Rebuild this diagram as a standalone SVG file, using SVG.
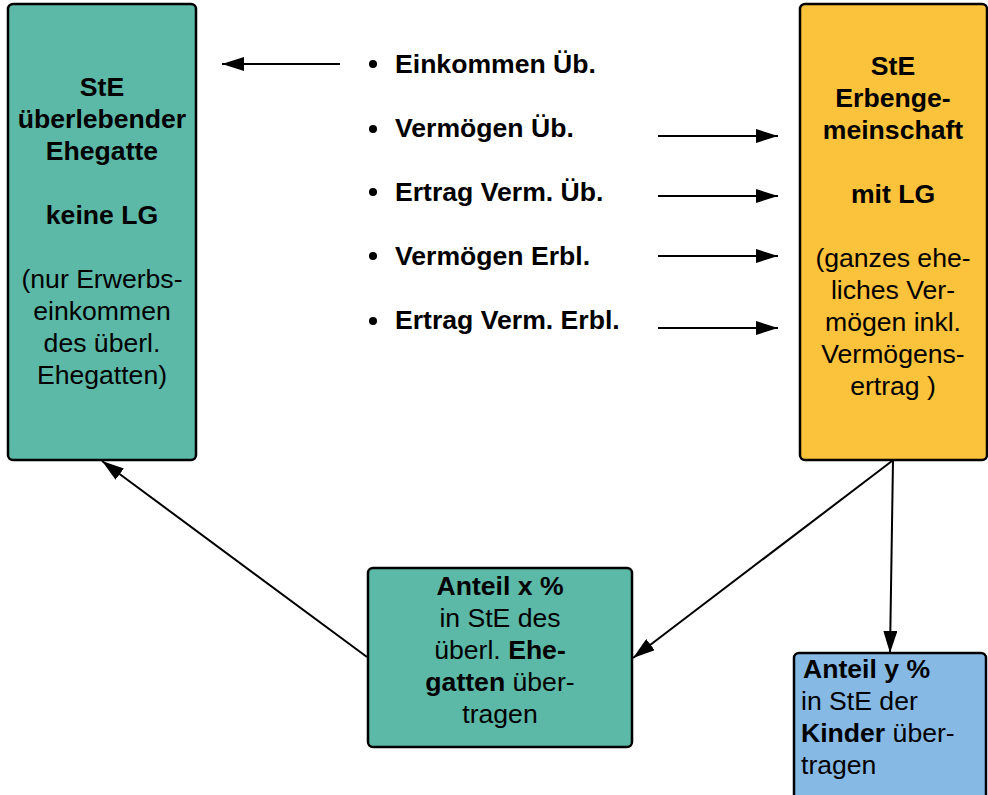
<svg xmlns="http://www.w3.org/2000/svg" width="988" height="795" viewBox="0 0 988 795">
<defs>
<style>
.box{stroke:#000;stroke-width:2.5}
.t{font-family:"Liberation Sans",Arial,sans-serif;font-size:26.6px;fill:#000}
.b{font-weight:bold}
.c{text-anchor:middle}
.ln{stroke:#000;stroke-width:2;fill:none}
</style>
<marker id="ah" viewBox="0 0 22 14" refX="22" refY="7" markerWidth="22" markerHeight="14" markerUnits="userSpaceOnUse" orient="auto">
<path d="M0,0 L22,7 L0,14 Z" fill="#000"/>
</marker>
</defs>
<rect width="988" height="795" fill="#fff"/>
<g id="connectors">
<line class="ln" x1="340" y1="64" x2="222" y2="64" marker-end="url(#ah)"/>
<line class="ln" x1="658" y1="136" x2="778" y2="136" marker-end="url(#ah)"/>
<line class="ln" x1="658" y1="196" x2="778" y2="196" marker-end="url(#ah)"/>
<line class="ln" x1="658" y1="256" x2="778" y2="256" marker-end="url(#ah)"/>
<line class="ln" x1="658" y1="328" x2="778" y2="328" marker-end="url(#ah)"/>
<line class="ln" x1="367" y1="657" x2="102" y2="461" marker-end="url(#ah)"/>
<line class="ln" x1="892" y1="461" x2="633" y2="658" marker-end="url(#ah)"/>
<line class="ln" x1="893" y1="461" x2="890" y2="653" marker-end="url(#ah)"/>
</g>
<g id="node-left">
<rect class="box" x="8" y="4" width="188" height="456" rx="5" fill="#5cb9a7"/>
<text class="t b c" x="102" y="96">StE</text>
<text class="t b c" x="102" y="128">überlebender</text>
<text class="t b c" x="102" y="160">Ehegatte</text>
<text class="t b c" x="102" y="224">keine LG</text>
<text class="t c" x="102" y="288">(nur Erwerbs-</text>
<text class="t c" x="102" y="320">einkommen</text>
<text class="t c" x="102" y="352">des überl.</text>
<text class="t c" x="102" y="384">Ehegatten)</text>
</g>
<g id="node-right">
<rect class="box" x="800" y="4" width="187" height="456" rx="5" fill="#fbc23b"/>
<text class="t b c" x="893" y="75">StE</text>
<text class="t b c" x="893" y="107">Erbenge-</text>
<text class="t b c" x="893" y="139">meinschaft</text>
<text class="t b c" x="893" y="203">mit LG</text>
<text class="t c" x="893" y="267">(ganzes ehe-</text>
<text class="t c" x="893" y="299">liches Ver-</text>
<text class="t c" x="893" y="331">mögen inkl.</text>
<text class="t c" x="893" y="363">Vermögens-</text>
<text class="t c" x="893" y="395">ertrag )</text>
</g>
<g id="node-list">
<circle cx="373" cy="64" r="4"/>
<circle cx="373" cy="129" r="4"/>
<circle cx="373" cy="192" r="4"/>
<circle cx="373" cy="256" r="4"/>
<circle cx="373" cy="321" r="4"/>
<text class="t b" x="395" y="73">Einkommen Üb.</text>
<text class="t b" x="395" y="137">Vermögen Üb.</text>
<text class="t b" x="395" y="201">Ertrag Verm. Üb.</text>
<text class="t b" x="395" y="265">Vermögen Erbl.</text>
<text class="t b" x="395" y="329">Ertrag Verm. Erbl.</text>
</g>
<g id="node-middle">
<rect class="box" x="368" y="568" width="264" height="179" rx="5" fill="#5cb9a7"/>
<text class="t b c" x="500" y="595">Anteil x %</text>
<text class="t c" x="500" y="627">in StE des</text>
<text class="t c" x="500" y="659">überl. <tspan class="b">Ehe-</tspan></text>
<text class="t c" x="500" y="691"><tspan class="b">gatten</tspan> über-</text>
<text class="t c" x="500" y="723">tragen</text>
</g>
<g id="node-blue">
<rect class="box" x="794" y="653" width="192" height="150" rx="5" fill="#86bae4"/>
<text class="t b" x="803" y="678">Anteil y %</text>
<text class="t" x="801" y="710">in StE der</text>
<text class="t" x="801" y="742"><tspan class="b">Kinder</tspan> über-</text>
<text class="t" x="801" y="774">tragen</text>
</g>
</svg>
